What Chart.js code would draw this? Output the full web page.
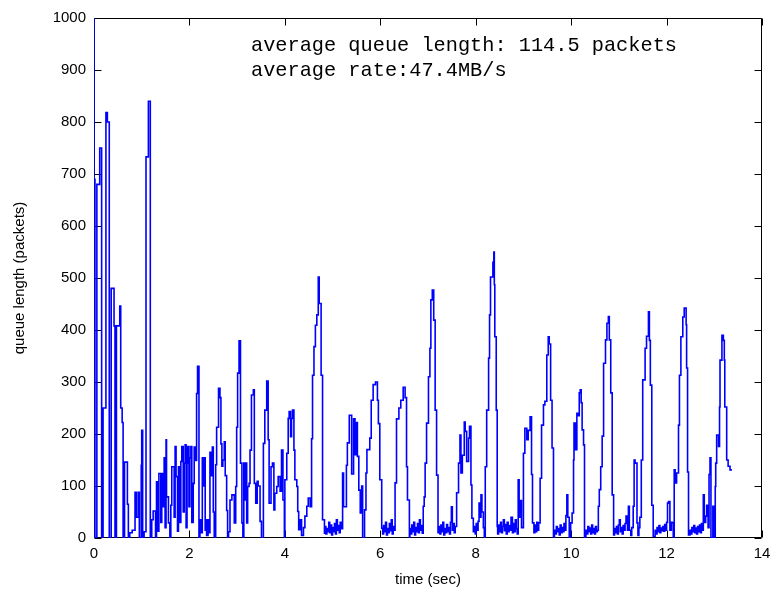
<!DOCTYPE html>
<html>
<head>
<meta charset="utf-8">
<script src="https://cdn.jsdelivr.net/npm/chart.js@4"></script>
<style>
  body { margin: 0; background: #fff; }
  canvas { display: block; }
</style>
</head>
<body>
<canvas id="chart0" width="771" height="596"></canvas>
<script>
"use strict"

// == data (time in sec, queue length in packets)
// every line of timeSec goes with the same line of queuePackets
const timeSec = [
    0, 0.02, 0.06, 0.12, 0.16, 0.19, 0.25, 0.28, 0.32, 0.36,
    0.42, 0.44, 0.47, 0.54, 0.56, 0.59, 0.61, 0.64, 0.70, 0.72,
    0.75, 0.80, 0.86, 0.89, 0.93, 0.95, 0.99, 1.00, 1.02, 1.05,
    1.09, 1.14, 1.18, 1.21, 1.24, 1.29, 1.31, 1.33, 1.36, 1.40,
    1.42, 1.44, 1.47, 1.49, 1.51, 1.52, 1.56, 1.59, 1.61, 1.63,
    1.68, 1.70, 1.72, 1.75, 1.77, 1.80, 1.82, 1.84, 1.87, 1.89,
    1.91, 1.93, 1.95, 1.96, 1.99, 2.01, 2.03, 2.05, 2.08, 2.10,
    2.12, 2.15, 2.17, 2.20, 2.22, 2.24, 2.27, 2.29, 2.31, 2.33,
    2.34, 2.36, 2.39, 2.41, 2.43, 2.45, 2.48, 2.50, 2.52, 2.55,
    2.57, 2.61, 2.64, 2.66, 2.68, 2.70, 2.73, 2.75, 2.78, 2.80,
    2.82, 2.85, 2.89, 2.94, 2.97, 2.99, 3.01, 3.04, 3.07, 3.10,
    3.12, 3.14, 3.15, 3.17, 3.20, 3.22, 3.25, 3.27, 3.30, 3.34,
    3.36, 3.39, 3.42, 3.44, 3.48, 3.51, 3.55, 3.58, 3.62, 3.65,
    3.67, 3.71, 3.74, 3.77, 3.79, 3.83, 3.86, 3.90, 3.93, 3.96,
    3.99, 4.00, 4.04, 4.07, 4.09, 4.12, 4.14, 4.16, 4.19, 4.21,
    4.25, 4.27, 4.29, 4.32, 4.35, 4.39, 4.42, 4.46, 4.49, 4.53,
    4.56, 4.58, 4.61, 4.64, 4.67, 4.70, 4.72, 4.76, 4.79, 4.83,
    4.84, 4.86, 4.88, 4.90, 4.92, 4.94, 4.96, 4.98, 5.00, 5.02,
    5.04, 5.06, 5.08, 5.10, 5.12, 5.14, 5.16, 5.19, 5.21, 5.23,
    5.29, 5.31, 5.35, 5.40, 5.44, 5.47, 5.50, 5.52, 5.55, 5.58,
    5.61, 5.63, 5.67, 5.70, 5.72, 5.78, 5.81, 5.85, 5.90, 5.94,
    5.96, 5.99, 6.03, 6.05, 6.07, 6.09, 6.11, 6.13, 6.15, 6.17,
    6.19, 6.21, 6.23, 6.25, 6.27, 6.29, 6.31, 6.34, 6.39, 6.43,
    6.48, 6.52, 6.55, 6.57, 6.61, 6.62, 6.64, 6.66, 6.68, 6.70,
    6.72, 6.74, 6.76, 6.78, 6.80, 6.82, 6.84, 6.86, 6.88, 6.90,
    6.92, 6.94, 6.97, 7.01, 7.04, 7.06, 7.09, 7.12, 7.15, 7.18,
    7.21, 7.23, 7.25, 7.27, 7.29, 7.31, 7.33, 7.35, 7.37, 7.39,
    7.41, 7.43, 7.45, 7.47, 7.49, 7.51, 7.53, 7.55, 7.57, 7.60,
    7.64, 7.67, 7.69, 7.72, 7.76, 7.78, 7.81, 7.85, 7.87, 7.90,
    7.92, 7.95, 7.97, 7.99, 8.01, 8.03, 8.05, 8.07, 8.09, 8.11,
    8.13, 8.16, 8.18, 8.20, 8.23, 8.27, 8.29, 8.31, 8.36, 8.38,
    8.39, 8.40, 8.43, 8.45, 8.46, 8.48, 8.50, 8.52, 8.54, 8.56,
    8.58, 8.60, 8.62, 8.64, 8.66, 8.68, 8.70, 8.72, 8.74, 8.77,
    8.79, 8.81, 8.83, 8.85, 8.87, 8.89, 8.91, 8.94, 8.96, 9.00,
    9.03, 9.07, 9.10, 9.14, 9.17, 9.19, 9.22, 9.24, 9.26, 9.28,
    9.30, 9.32, 9.35, 9.38, 9.42, 9.45, 9.49, 9.52, 9.54, 9.57,
    9.60, 9.63, 9.65, 9.67, 9.69, 9.71, 9.73, 9.75, 9.77, 9.79,
    9.81, 9.83, 9.85, 9.87, 9.89, 9.91, 9.93, 9.96, 9.99, 10.02,
    10.05, 10.06, 10.09, 10.12, 10.14, 10.17, 10.19, 10.21, 10.23, 10.26,
    10.28, 10.31, 10.33, 10.35, 10.37, 10.39, 10.41, 10.43, 10.45, 10.47,
    10.49, 10.51, 10.53, 10.55, 10.57, 10.59, 10.62, 10.65, 10.68, 10.72,
    10.75, 10.78, 10.80, 10.83, 10.86, 10.89, 10.91, 10.93, 10.95, 10.97,
    10.99, 11.01, 11.03, 11.05, 11.07, 11.09, 11.11, 11.13, 11.15, 11.18,
    11.20, 11.22, 11.25, 11.27, 11.30, 11.32, 11.34, 11.38, 11.40, 11.42,
    11.44, 11.47, 11.50, 11.55, 11.58, 11.62, 11.64, 11.66, 11.69, 11.72,
    11.76, 11.78, 11.80, 11.82, 11.84, 11.86, 11.88, 11.90, 11.92, 11.94,
    11.96, 11.98, 12.00, 12.02, 12.04, 12.07, 12.10, 12.12, 12.14, 12.16,
    12.18, 12.21, 12.25, 12.27, 12.30, 12.34, 12.37, 12.41, 12.42, 12.44,
    12.46, 12.49, 12.51, 12.53, 12.55, 12.57, 12.59, 12.61, 12.63, 12.65,
    12.67, 12.69, 12.71, 12.73, 12.75, 12.77, 12.79, 12.82, 12.84, 12.87,
    12.89, 12.91, 12.93, 12.97, 12.99, 13.02, 13.03, 13.05, 13.09, 13.11,
    13.12, 13.16, 13.19, 13.21, 13.22, 13.26, 13.29, 13.33, 13.35, 13.37
]

const queuePackets = [
    1000, 690, 0, 680, 750, 0, 250, 818, 800, 0,
    480, 408, 0, 408, 446, 250, 222, 0, 146, 65,
    0, 10, 15, 88, 40, 88, 0, 140, 207, 0,
    12, 733, 840, 0, 35, 52, 0, 108, 13, 124,
    30, 124, 60, 154, 20, 189, 79, 29, 0, 63,
    137, 40, 176, 118, 13, 137, 30, 147, 176, 50,
    144, 179, 20, 144, 176, 60, 154, 176, 30, 105,
    175, 149, 278, 330, 0, 35, 10, 154, 100, 154,
    15, 35, 5, 35, 10, 165, 120, 175, 50, 0,
    141, 213, 288, 270, 181, 138, 150, 185, 120, 53,
    0, 12, 73, 83, 29, 99, 213, 317, 379, 144,
    29, 0, 144, 73, 144, 29, 99, 105, 169, 275,
    285, 105, 67, 109, 100, 32, 0, 182, 246, 302,
    189, 67, 137, 144, 54, 86, 99, 118, 90, 169,
    73, 0, 112, 163, 230, 243, 195, 230, 246, 169,
    112, 99, 51, 16, 35, 5, 20, 42, 61, 77,
    60, 191, 313, 368, 409, 429, 502, 451, 313, 35,
    9, 22, 8, 18, 12, 30, 10, 25, 6, 20,
    12, 28, 8, 35, 15, 24, 10, 30, 18, 125,
    60, 140, 183, 236, 123, 229, 160, 222, 157, 92,
    48, 100, 0, 54, 125, 170, 192, 265, 295, 300,
    265, 220, 112, 19, 8, 24, 12, 30, 6, 18,
    10, 28, 14, 35, 8, 22, 15, 106, 229, 250,
    265, 290, 270, 137, 73, 0, 18, 8, 25, 12,
    30, 6, 20, 12, 28, 10, 35, 15, 24, 9,
    61, 79, 144, 221, 310, 365, 458, 477, 419, 246,
    121, 10, 22, 8, 25, 12, 30, 6, 18, 10,
    26, 12, 20, 8, 30, 60, 15, 28, 10, 22,
    87, 144, 198, 125, 159, 223, 205, 147, 192, 215,
    102, 38, 12, 22, 8, 28, 15, 32, 67, 40,
    83, 50, 20, 0, 137, 246, 346, 429, 502, 530,
    550, 487, 387, 246, 22, 8, 25, 12, 30, 10,
    22, 35, 14, 26, 8, 30, 12, 24, 15, 40,
    10, 28, 12, 35, 18, 8, 112, 40, 72, 20,
    163, 211, 189, 207, 233, 122, 29, 10, 25, 12,
    30, 15, 29, 115, 217, 256, 263, 352, 387, 373,
    265, 173, 0, 15, 8, 22, 12, 18, 6, 25,
    10, 20, 12, 28, 15, 43, 83, 40, 0, 29,
    48, 150, 221, 170, 240, 235, 279, 285, 260, 208,
    179, 0, 15, 8, 22, 12, 19, 8, 25, 10,
    18, 8, 22, 12, 15, 61, 93, 137, 196, 336,
    381, 413, 426, 381, 279, 83, 6, 18, 10, 22,
    8, 25, 35, 12, 20, 8, 24, 15, 28, 42,
    15, 61, 15, 5, 20, 61, 150, 144, 29, 5,
    20, 40, 150, 304, 365, 388, 435, 380, 294, 63,
    3, 15, 8, 20, 12, 24, 10, 19, 14, 22,
    13, 26, 15, 30, 67, 70, 15, 30, 29, 0,
    131, 106, 125, 217, 313, 387, 425, 442, 410, 327,
    127, 6, 15, 8, 20, 12, 24, 10, 19, 8,
    22, 12, 25, 10, 28, 15, 83, 30, 42, 63,
    20, 122, 154, 0, 61, 0, 99, 144, 198, 176,
    252, 342, 390, 380, 342, 252, 150, 138, 131, 131
]

const xTicks = [0, 2, 4, 6, 8, 10, 12, 14]
const yTicks = [0, 100, 200, 300, 400, 500, 600, 700, 800, 900, 1000]
const notes = ["average queue length: 114.5 packets", "average rate:47.4MB/s"]

// matlab style frame with ticks pointing inwards on all four sides,
// drawn under the line so the spike at t=0 stays blue
const matlabBox = {
    id: 'matlabBox',
    beforeDatasetsDraw(chart) {
        const ctx = chart.ctx
        const a = chart.chartArea
        const xs = chart.scales.x
        const ys = chart.scales.y
        const L = Math.round(a.left) + 0.5, R = Math.round(a.right) - 0.5
        const T = Math.round(a.top) + 0.5, B = Math.round(a.bottom) - 0.5
        const len = 7
        ctx.save()
        ctx.strokeStyle = '#000'
        ctx.lineWidth = 1
        ctx.beginPath()
        ctx.rect(L, T, R - L, B - T)
        xTicks.forEach(v => {
            let px = Math.round(xs.getPixelForValue(v)) + 0.5
            ctx.moveTo(px, B); ctx.lineTo(px, B - len)
            ctx.moveTo(px, T); ctx.lineTo(px, T + len)
        })
        yTicks.forEach(v => {
            let py = Math.round(ys.getPixelForValue(v)) + 0.5
            ctx.moveTo(L, py); ctx.lineTo(L + len, py)
            ctx.moveTo(R, py); ctx.lineTo(R - len, py)
        })
        ctx.stroke()
        ctx.restore()
    },
    afterDatasetsDraw(chart) {
        // the two text lines in the upper part of the axes
        const ctx = chart.ctx
        const a = chart.chartArea
        ctx.save()
        ctx.fillStyle = '#000'
        ctx.font = '20.3px "Liberation Mono", monospace'
        ctx.textBaseline = 'alphabetic'
        ctx.fillText(notes[0], a.left + 157, a.top + 33)
        ctx.fillText(notes[1], a.left + 157, a.top + 58)
        ctx.restore()
    }
}

const tickFont = { family: '"Liberation Sans", Arial, sans-serif', size: 15 }

let points = timeSec.map((t, i) => ({ x: t, y: queuePackets[i] }))

new Chart(document.getElementById('chart0').getContext('2d'), {
    type: 'line',
    data: {
        datasets: [{
            data: points,
            borderColor: '#0000ff',
            borderWidth: 1.6,
            pointRadius: 0,
            stepped: 'after',
            fill: false
        }]
    },
    options: {
        responsive: false,
        animation: false,
        layout: { padding: { top: 18, right: 9, left: 0, bottom: 0 } },
        plugins: { legend: { display: false }, tooltip: { enabled: false } },
        scales: {
            x: {
                type: 'linear',
                min: 0,
                max: 14,
                afterBuildTicks: s => { s.ticks = xTicks.map(v => ({ value: v })) },
                // fixed height, and no extra room asked for the end labels
                afterFit: s => { s.height = 58; s.paddingLeft = 0; s.paddingRight = 0 },
                grid: { display: false, drawTicks: false },
                border: { display: false },
                ticks: { color: '#000', font: tickFont, padding: 7, maxRotation: 0, callback: v => String(v) },
                title: {
                    display: true, text: 'time (sec)', color: '#000',
                    font: tickFont, padding: { top: 0, bottom: 7 }
                }
            },
            y: {
                min: 0,
                max: 1000,
                afterBuildTicks: s => { s.ticks = yTicks.map(v => ({ value: v })) },
                afterFit: s => { s.width = 94 },
                grid: { display: false, drawTicks: false },
                border: { display: false },
                ticks: { color: '#000', font: tickFont, padding: 8, callback: v => String(v) },
                title: {
                    display: true, text: 'queue length (packets)', color: '#000',
                    font: tickFont, padding: { top: 11, bottom: 0 }
                }
            }
        }
    },
    plugins: [matlabBox]
})
</script>
</body>
</html>
